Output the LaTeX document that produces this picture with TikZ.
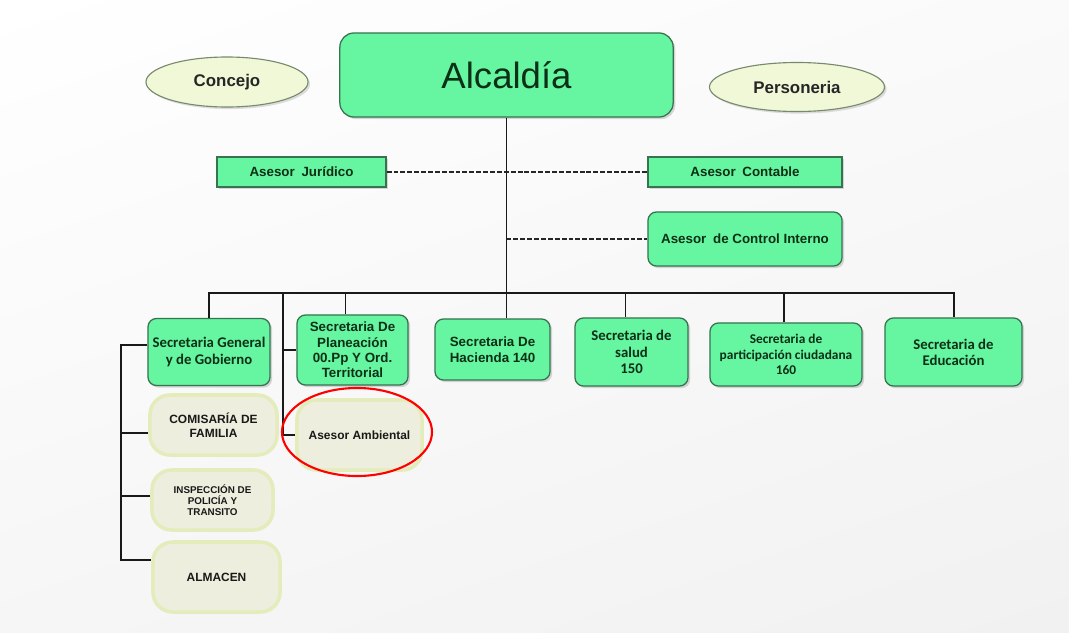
\documentclass[tikz,border=0pt]{standalone}
\usepackage{fontspec}
\setmainfont{Liberation Sans}
\newfontfamily\calib{Carlito}
\usetikzlibrary{calc,shapes.geometric,shadows,shadings}

\definecolor{mint}{RGB}{102,245,160}
\definecolor{mintline}{RGB}{55,115,80}
\definecolor{darktxt}{RGB}{12,48,22}
\definecolor{cream}{RGB}{238,238,222}
\definecolor{creamline}{RGB}{228,236,188}
\definecolor{ovalfill}{RGB}{240,248,216}
\definecolor{ovalline}{RGB}{120,138,110}

\tikzset{
  greenbox/.style={draw=mintline, fill=mint, line width=0.9pt, text=darktxt,
    align=center, inner sep=1pt, font=\bfseries\fontsize{9.5}{11}\selectfont,
    drop shadow={opacity=0.3, shadow xshift=1.5pt, shadow yshift=-1.5pt}},
  roundbox/.style={greenbox, rounded corners=6pt},
  calibfont/.style={font=\calib\bfseries\fontsize{10.5}{11.5}\selectfont},
  creambox/.style={draw=creamline, fill=cream, line width=2.5pt, rounded corners=14pt,
    align=center, inner sep=1pt, text=black!90, font=\bfseries\fontsize{8.5}{10}\selectfont},
  ovalnode/.style={ellipse, draw=ovalline, fill=ovalfill, line width=0.8pt,
    text=black!85, font=\bfseries\fontsize{12}{14}\selectfont,
    drop shadow={opacity=0.25, shadow xshift=1.5pt, shadow yshift=-1.5pt}},
  link/.style={line width=1.4pt, black!90},
  dashlink/.style={line width=2.1pt, black!85, dash pattern=on 3.5pt off 1.4pt},
}

\begin{document}
\begin{tikzpicture}[x=0.025cm, y=-0.025cm]
  % Background
  \shade[upper left=white, upper right=gray!4, lower left=gray!7, lower right=gray!11]
    (0,0) rectangle (1069,632);
  \useasboundingbox (0,0) rectangle (1069,632);

  % Top
  \node[roundbox, rounded corners=10pt, minimum width=8.33cm, minimum height=2.1cm,
    font=\fontsize{26}{30}\selectfont] (alc) at (506.5,75) {Alcaldía};
  \node[ovalnode, minimum width=4.05cm, minimum height=1.25cm] (con) at (227,82) {Concejo};
  \node[ovalnode, minimum width=4.375cm, minimum height=1.225cm] (per) at (797,87) {Personeria};

  % Asesores
  \node[greenbox, minimum width=4.225cm, minimum height=0.75cm] (jur) at (301.5,172) {Asesor\enspace Jurídico};
  \node[greenbox, minimum width=4.85cm, minimum height=0.75cm] (cont) at (745,172) {Asesor\enspace Contable};
  \node[roundbox, minimum width=4.85cm, minimum height=1.35cm] (ctrl) at (745,239) {Asesor\enspace de Control Interno};

  % Secretarias
  \node[roundbox, calibfont, minimum width=3.05cm, minimum height=1.675cm] (gen) at (209,352) {Secretaria General\\y de Gobierno};
  \node[roundbox, minimum width=2.775cm, minimum height=1.75cm] (plan) at (352.5,350) {Secretaria De\\Planeación\\00.Pp Y Ord.\\Territorial};
  \node[roundbox, minimum width=2.875cm, minimum height=1.525cm] (hac) at (492.5,349.5) {Secretaria De\\Hacienda 140};
  \node[roundbox, calibfont, minimum width=2.825cm, minimum height=1.7cm] (sal) at (631.5,352) {Secretaria de\\salud\\150};
  \node[roundbox, calibfont, font=\calib\bfseries\fontsize{9.5}{11}\selectfont,
    minimum width=3.8cm, minimum height=1.575cm] (part) at (786,354.5) {Secretaria de\\participación ciudadana\\160};
  \node[roundbox, calibfont, minimum width=3.425cm, minimum height=1.7cm] (edu) at (953.5,352) {Secretaria de\\Educación};

  % Dependencias
  \node[creambox, minimum width=3.175cm, minimum height=1.5cm] (com) at (213.5,425) {COMISARÍA DE\\FAMILIA};
  \node[creambox, font=\bfseries\fontsize{7}{8}\selectfont, minimum width=3.025cm, minimum height=1.5cm] (insp) at (212.5,500) {INSPECCIÓN DE\\POLICÍA Y\\TRANSITO};
  \node[creambox, minimum width=3.175cm, minimum height=1.75cm] (alm) at (216.5,577) {ALMACEN};
  \node[creambox, minimum width=3.125cm, minimum height=1.75cm] (amb) at (359.5,435) {Asesor Ambiental};

  % Lines
  \coordinate (bus) at (506,293);
  \coordinate (mid) at (283,293);
  \draw[link] (alc.south) -- (alc.south |- hac.north);
  \draw[link] (gen.north) -- (gen.north |- bus) -- (edu.north |- bus) -- (edu.north);
  \foreach \n/\dx in {plan/-7,sal/-6,part/-2}
    \draw[link] ($(\n.north)+(\dx,0)$) -- ($(\n.north |- bus)+(\dx,0)$);
  \draw[link] (mid) -- (mid |- amb.west) -- (amb.west);
  \draw[link] (mid |- plan.west) -- (plan.west);
  \draw[link] ($(gen.west)+(0,-7)$) -| ($(alm.west)+(-30,-17)$) -- ($(alm.west)+(0,-17)$);
  \draw[link] ($(com.west)+(0,8)$) -- ++(-27,0);
  \draw[link] ($(insp.west)+(0,-4)$) -- ++(-29,0);

  % Dashed
  \draw[dashlink] (jur.east) -- (cont.west);
  \draw[dashlink] (alc.south |- ctrl.west) -- (ctrl.west);

  % Highlight
  \draw[red, line width=1.5pt] ($(amb.center)+(-2.5,-3)$) ellipse [x radius=1.875cm, y radius=1.1cm];
\end{tikzpicture}
\end{document}
